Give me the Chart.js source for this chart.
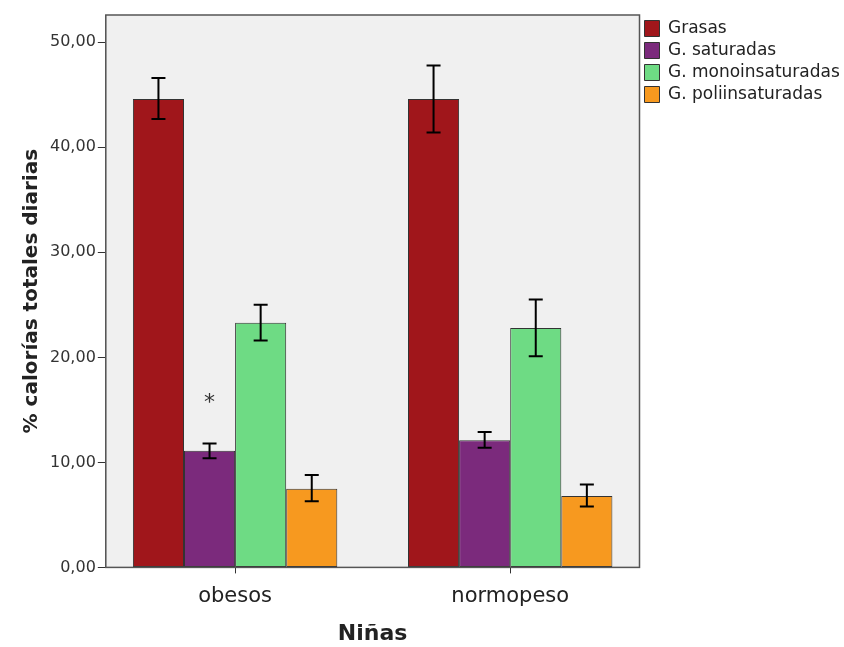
<!DOCTYPE html>
<html>
<head>
<meta charset="utf-8">
<script src="https://cdn.jsdelivr.net/npm/chart.js@4.4.1/dist/chart.umd.min.js"></script>
<style>
  html, body { margin: 0; padding: 0; background: #ffffff; }
  #wrap { width: 844px; height: 647px; }
</style>
</head>
<body>
<div id="wrap"><canvas id="myChart" width="844" height="647"></canvas></div>
<script>
const categories = ["obesos", "normopeso"];
const seriesNames = ["Grasas", "G. saturadas", "G. monoinsaturadas", "G. poliinsaturadas"];

const grasas = [44.6, 44.6];
const grasasLo = [42.7, 41.4];
const grasasHi = [46.6, 47.8];

const saturadas = [11.1, 12.1];
const saturadasLo = [10.4, 11.4];
const saturadasHi = [11.8, 12.9];

const mono = [23.3, 22.8];
const monoLo = [21.6, 20.1];
const monoHi = [25.0, 25.5];

const poli = [7.5, 6.8];
const poliLo = [6.3, 5.8];
const poliHi = [8.8, 7.9];

const yTicks = [0, 10, 20, 30, 40, 50];
// asterisk marks (dataset index, category index, value)
const marks = [{ ds: 1, idx: 0, y: 15.6, text: "*" }];

const colors = ["#a0161b", "#7b2a7c", "#6edb84", "#f7991f"];
const values = [grasas, saturadas, mono, poli];
const lows = [grasasLo, saturadasLo, monoLo, poliLo];
const highs = [grasasHi, saturadasHi, monoHi, poliHi];

const FONT = "'DejaVu Sans', sans-serif";

// background + frame of plot area
const plotFrame = {
  id: "plotFrame",
  beforeDatasetsDraw(chart) {
    const { ctx, chartArea: a } = chart;
    ctx.save();
    ctx.fillStyle = "#f0f0f0";
    ctx.fillRect(a.left, a.top, a.right - a.left, a.bottom - a.top);
    ctx.restore();
  },
  afterDatasetsDraw(chart) {
    const { ctx, chartArea: a } = chart;
    ctx.save();
    ctx.strokeStyle = "#555555";
    ctx.lineWidth = 1.5;
    ctx.strokeRect(a.left, a.top, a.right - a.left, a.bottom - a.top);
    ctx.restore();
  }
};

// error bars
const errorBars = {
  id: "errorBars",
  afterDatasetsDraw(chart) {
    const { ctx } = chart;
    const y = chart.scales.y;
    ctx.save();
    ctx.strokeStyle = "#000000";
    ctx.lineWidth = 2;
    chart.data.datasets.forEach((ds, i) => {
      const meta = chart.getDatasetMeta(i);
      meta.data.forEach((bar, j) => {
        const yl = y.getPixelForValue(lows[i][j]);
        const yh = y.getPixelForValue(highs[i][j]);
        const x = bar.x;
        ctx.beginPath();
        ctx.moveTo(x, yl); ctx.lineTo(x, yh);
        ctx.moveTo(x - 7, yl); ctx.lineTo(x + 7, yl);
        ctx.moveTo(x - 7, yh); ctx.lineTo(x + 7, yh);
        ctx.stroke();
      });
    });
    ctx.fillStyle = "#333333";
    ctx.font = "22px " + FONT;
    ctx.textAlign = "center";
    ctx.textBaseline = "middle";
    marks.forEach(m => {
      const bar = chart.getDatasetMeta(m.ds).data[m.idx];
      ctx.fillText(m.text, bar.x, y.getPixelForValue(m.y));
    });
    ctx.restore();
  }
};

const datasets = seriesNames.map((name, i) => ({
  label: name,
  data: values[i].map((v, j) => ({ x: j, y: v })),
  backgroundColor: colors[i],
  borderColor: "#333333",
  borderWidth: 1,
  borderSkipped: false,
  categoryPercentage: 0.743,
  barPercentage: 1.0
}));

new Chart(document.getElementById("myChart").getContext("2d"), {
  type: "bar",
  data: { datasets },
  options: {
    responsive: false,
    animation: false,
    layout: { padding: { top: 15, left: 20, right: -2, bottom: 0 } },
    plugins: {
      tooltip: { enabled: false },
      legend: {
        position: "right",
        align: "start",
        labels: {
          color: "#222222",
          font: { family: FONT, size: 17 },
          boxWidth: 15,
          boxHeight: 16,
          padding: 5
        }
      }
    },
    scales: {
      x: {
        type: "linear",
        offset: false,
        min: -0.47,
        max: 1.47,
        afterBuildTicks(scale) {
          scale.ticks = categories.map((c, i) => ({ value: i }));
        },
        ticks: {
          callback: v => categories[v],
          color: "#222222",
          font: { family: FONT, size: 21 },
          padding: 11
        },
        grid: { offset: false, drawOnChartArea: false, drawTicks: true, tickLength: 6, color: "#333333" },
        border: { color: "#555555" },
        title: {
          display: true,
          text: "Niñas",
          color: "#222222",
          font: { family: FONT, size: 22, weight: "bold" },
          padding: { top: 0, bottom: 0 }
        }
      },
      y: {
        min: 0,
        max: 52.6,
        afterBuildTicks(scale) {
          scale.ticks = yTicks.map(v => ({ value: v }));
        },
        ticks: {
          callback: v => v.toFixed(2).replace(".", ","),
          color: "#333333",
          font: { family: FONT, size: 16 },
          padding: 2
        },
        grid: { drawOnChartArea: false, drawTicks: true, tickLength: 8, color: "#333333" },
        border: { color: "#555555" },
        title: {
          display: true,
          text: "% calorías totales diarias",
          color: "#222222",
          font: { family: FONT, size: 20, weight: "bold" },
          padding: { top: 0, bottom: 4 }
        }
      }
    }
  },
  plugins: [plotFrame, errorBars]
});
</script>
</body>
</html>
